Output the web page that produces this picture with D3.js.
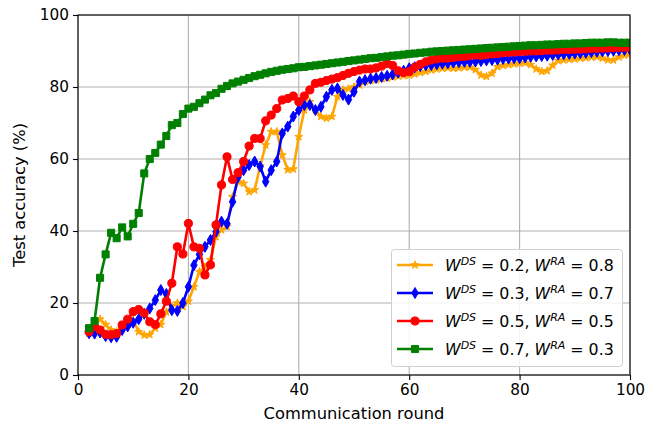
<!DOCTYPE html>
<html>
<head>
<meta charset="utf-8">
<script src="https://cdn.jsdelivr.net/npm/d3@7"></script>
<style>
  body { margin: 0; background: #fff; }
  svg { font-family: "DejaVu Sans", sans-serif; }
</style>
</head>
<body>
<svg id="chart" width="647" height="422"></svg>
<script>
// rounds 2..100
var rounds = d3.range(2, 101);

var acc_02 = [11.6, 13.5, 15.5, 14, 12.5, 12, 13, 14.3, 15.2, 12, 11.1, 11.2, 13, 14, 17.5, 19, 20, 19, 20.5,
  24.5, 28.7, 30, 32, 38.4, 40.3, 41.2, 49.5, 53.7, 53.2, 50.9, 51.4, 58, 63.9, 67.6, 67.6, 61.1, 57, 57.2, 66.2,
  73.6, 75.9, 73.6, 71.8, 71.3, 71.8, 77.3, 79.2, 79.5, 80, 80.5, 81.5, 81.8, 82, 82.3, 82.5, 82.8, 83, 83.2, 83.3,
  83.6, 84, 84.3, 84.7, 85, 85.2, 85.3, 85.2, 85.3, 85.5, 85.5, 84.8, 83.3, 82.9, 83.8, 85.6, 86, 86.2, 86.4, 86.6,
  86.7, 86.2, 85, 84.3, 84.5, 86, 87.3, 87.5, 87.7, 87.8, 88, 88.1, 88.3, 88.4, 88, 87.5, 87.5, 88.3, 88.8, 89.2];

var acc_03 = [11.6, 11.5, 11.8, 10.8, 10.5, 10.6, 12.5, 13.5, 14.5, 15.5, 17, 18.5, 20.8, 23.6, 22.5, 18, 17.8, 20,
  24.5, 30.5, 33.5, 35.6, 37.5, 39.8, 42.6, 42, 48.1, 55, 56.9, 58.3, 59.3, 57.9, 53.7, 56.9, 59.3, 67.1, 69, 71.8,
  73.6, 75, 75, 73.6, 74.5, 77.3, 79.2, 79.6, 77.8, 76.5, 78.7, 81.5, 81.9, 82.3, 82.5, 82.8, 83.1, 83.5, 84, 84.5,
  85.2, 85.5, 85.8, 86, 86.1, 86.3, 86.5, 86.6, 86.8, 86.9, 87, 87, 87.1, 87.2, 87.4, 87.5, 87.6, 87.8, 87.9, 88, 88,
  88.2, 88.4, 88.5, 88.6, 88.7, 88.9, 89, 89.1, 89.2, 89.3, 89.4, 89.5, 89.7, 89.8, 89.9, 90, 90.1, 90.2, 90.3, 90.4];

var acc_05 = [12, 13.4, 12.5, 11.3, 11.2, 11.5, 13.9, 15.5, 17.6, 18.2, 17.2, 14.8, 14, 17, 20.5, 25.5, 35.6, 33.6,
  42.1, 35.6, 35.2, 27.8, 30.6, 41.7, 52.8, 60.6, 54.3, 56.2, 59.3, 63.6, 65.7, 65.7, 70.6, 72.2, 74, 76.4, 76.8,
  77.5, 75.9, 77.5, 79.2, 81, 81.3, 81.8, 82.2, 82.6, 83.2, 83.8, 84.3, 84.7, 85, 85, 85.3, 85.8, 86.5, 86, 84.5, 84,
  84.3, 85.5, 86.3, 87, 87.5, 87.8, 88, 88, 88.2, 88.4, 88.5, 88.7, 88.9, 88.8, 89, 89.2, 89.3, 89.5, 89.6, 89.7,
  89.8, 89.9, 90, 90, 90.1, 90.2, 90.2, 90.3, 90.4, 90.4, 90.5, 90.5, 90.6, 90.7, 90.7, 90.8, 90.8, 90.9, 91, 91, 91];

var acc_07 = [13, 15, 27, 33.5, 39.5, 38, 41, 38.5, 42, 45, 56, 60, 61.7, 64, 66.4, 69.4, 70, 72.5, 74, 74.5, 75.5,
  76.5, 77.7, 78.3, 79.5, 80.3, 81, 81.5, 82, 82.5, 83, 83.4, 83.8, 84.2, 84.5, 84.8, 85, 85.2, 85.5, 85.6, 85.8, 86,
  86.2, 86.4, 86.6, 86.8, 87, 87.2, 87.4, 87.6, 87.8, 88, 88.1, 88.3, 88.5, 88.7, 88.8, 89, 89.2, 89.3, 89.5, 89.6,
  89.8, 89.9, 90, 90.1, 90.2, 90.3, 90.4, 90.5, 90.6, 90.7, 90.8, 90.9, 91, 91.1, 91.2, 91.3, 91.4, 91.5, 91.6, 91.6,
  91.7, 91.8, 91.8, 91.9, 92, 92, 92.1, 92.1, 92.2, 92.3, 92.3, 92.3, 92.4, 92.4, 92.3, 92.3, 92.3];

var x_ticks = [0, 20, 40, 60, 80, 100];
var y_ticks = [0, 20, 40, 60, 80, 100];

var series = [
  {ds: "0.2", ra: "0.8", color: "orange", marker: "star", values: acc_02},
  {ds: "0.3", ra: "0.7", color: "blue", marker: "diamond", values: acc_03},
  {ds: "0.5", ra: "0.5", color: "red", marker: "circle", values: acc_05},
  {ds: "0.7", ra: "0.3", color: "green", marker: "square", values: acc_07}
];

var ax_left = 78, ax_right = 630, ax_top = 15, ax_bottom = 375;
var svg = d3.select("#chart");

var x = d3.scaleLinear().domain([0, 100]).range([ax_left, ax_right]);
var y = d3.scaleLinear().domain([0, 100]).range([ax_bottom, ax_top]);

// grid
var grid = svg.append("g");
grid.selectAll(".gx").data(x_ticks).enter().append("line")
  .attr("x1", d => x(d)).attr("x2", d => x(d))
  .attr("y1", ax_top).attr("y2", ax_bottom)
  .attr("stroke", "#b0b0b0").attr("stroke-width", 1.1);
grid.selectAll(".gy").data(y_ticks).enter().append("line")
  .attr("x1", ax_left).attr("x2", ax_right)
  .attr("y1", d => y(d)).attr("y2", d => y(d))
  .attr("stroke", "#b0b0b0").attr("stroke-width", 1.1);

svg.append("clipPath").attr("id", "clip").append("rect")
  .attr("x", ax_left).attr("y", ax_top).attr("width", ax_right - ax_left).attr("height", ax_bottom - ax_top);

function markerPath(type) {
  if (type == "star") return d3.symbol().type(d3.symbolStar).size(20)();
  if (type == "diamond") return "M0,-5.5L3.2,0L0,5.5L-3.2,0Z";
  if (type == "circle") return d3.symbol().type(d3.symbolCircle).size(52)();
  return d3.symbol().type(d3.symbolSquare).size(50)();
}

var line = d3.line().x(d => x(d[0])).y(d => y(d[1]));
var plot = svg.append("g").attr("clip-path", "url(#clip)");

series.forEach(function (s) {
  var pts = rounds.map((r, i) => [r, s.values[i]]);
  var g = plot.append("g");
  g.append("path").datum(pts).attr("d", line)
    .attr("fill", "none").attr("stroke", s.color).attr("stroke-width", 2.6)
    .attr("stroke-linejoin", "round");
  g.selectAll("path.m").data(pts).enter().append("path").attr("class", "m")
    .attr("d", markerPath(s.marker))
    .attr("transform", d => "translate(" + x(d[0]) + "," + y(d[1]) + ")")
    .attr("fill", s.color).attr("stroke", s.color).attr("stroke-width", 1);
});

// axes
var xAxis = svg.append("g").attr("transform", "translate(0," + ax_bottom + ")")
  .call(d3.axisBottom(x).tickValues(x_ticks).tickSize(5).tickPadding(4));
var yAxis = svg.append("g").attr("transform", "translate(" + ax_left + ",0)")
  .call(d3.axisLeft(y).tickValues(y_ticks).tickSize(5).tickPadding(4));
[xAxis, yAxis].forEach(function (a) {
  a.select(".domain").remove();
  a.selectAll("line").attr("stroke", "#000").attr("stroke-width", 1.1);
  a.selectAll("text").attr("font-size", 15.3).attr("fill", "#000")
    .attr("font-family", "DejaVu Sans");
});

svg.append("rect").attr("x", ax_left).attr("y", ax_top)
  .attr("width", ax_right - ax_left).attr("height", ax_bottom - ax_top)
  .attr("fill", "none").attr("stroke", "#000").attr("stroke-width", 1.1);

svg.append("text").attr("x", (ax_left + ax_right) / 2).attr("y", 419)
  .attr("text-anchor", "middle").attr("font-size", 16.3).text("Communication round");
svg.append("text").attr("transform", "translate(25," + ((ax_top + ax_bottom) / 2) + ") rotate(-90)")
  .attr("text-anchor", "middle").attr("font-size", 16.3).text("Test accuracy (%)");

// legend
var leg = svg.append("g");
leg.append("rect").attr("x", 391.5).attr("y", 249.5).attr("width", 231).attr("height", 117)
  .attr("rx", 3).attr("fill", "#fff").attr("fill-opacity", 0.85)
  .attr("stroke", "#d0d0d0").attr("stroke-width", 1);

series.forEach(function (s, i) {
  var cy = 265 + i * 28;
  leg.append("line").attr("x1", 397).attr("x2", 433).attr("y1", cy).attr("y2", cy)
    .attr("stroke", s.color).attr("stroke-width", 2.6);
  leg.append("path").attr("d", markerPath(s.marker))
    .attr("transform", "translate(415," + cy + ")")
    .attr("fill", s.color).attr("stroke", s.color).attr("stroke-width", 1);
  var t = leg.append("text").attr("x", 445).attr("y", cy + 6).attr("font-size", 15.8);
  t.append("tspan").attr("font-style", "italic").text("W");
  t.append("tspan").attr("font-style", "italic").attr("font-size", 11).attr("dy", -6.5).text("DS");
  t.append("tspan").attr("dy", 6.5).text(" = " + s.ds + ", ");
  t.append("tspan").attr("font-style", "italic").text("W");
  t.append("tspan").attr("font-style", "italic").attr("font-size", 11).attr("dy", -6.5).text("RA");
  t.append("tspan").attr("dy", 6.5).text(" = " + s.ra);
});
</script>
</body>
</html>
